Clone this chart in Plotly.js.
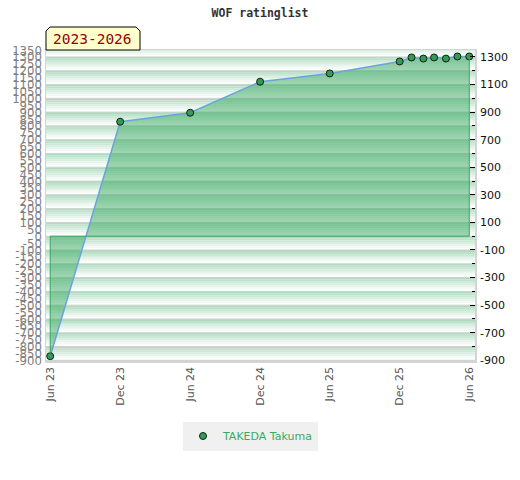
<!DOCTYPE html>
<html><head><meta charset="utf-8">
<script src="https://cdn.plot.ly/plotly-3.0.1.min.js"></script>
<style>html,body{margin:0;padding:0;background:#fff}#chart{width:520px;height:480px}</style>
</head><body><div id="chart"></div>
<script>
// ---- data ----
var dates = ['2023-06-01','2023-12-01','2024-06-01','2024-12-01','2025-06-01','2025-12-01',
             '2026-01-01','2026-02-01','2026-03-01','2026-04-01','2026-05-01','2026-06-01'];
var ratings = [-870, 830, 895, 1120, 1180, 1267, 1296, 1288, 1296, 1288, 1303, 1303];
var playerName = 'TAKEDA Takuma';
var periodLabel = '2023-2026';
var xTickVals = ['2023-06-01','2023-12-01','2024-06-01','2024-12-01','2025-06-01','2025-12-01','2026-06-01'];
var xTickText = ['Jun 23','Dec 23','Jun 24','Dec 24','Jun 25','Dec 25','Jun 26'];
var leftTickVals = [-900,-850,-800,-750,-700,-650,-600,-550,-500,-450,-400,-350,-300,-250,-200,-150,-100,-50,
                    0,50,100,150,200,250,300,350,400,450,500,550,600,650,700,750,800,850,900,950,
                    1000,1050,1100,1150,1200,1250,1300,1350];
var leftTickText = leftTickVals.map(String);
var rightTickVals = [-900,-700,-500,-300,-100,100,300,500,700,900,1100,1300];
var rightTickText = rightTickVals.map(String);
var yRange = [-905, 1350];
var xRange = ['2023-05-21','2026-06-16'];

// ---- background stripes (style only) ----
function buildShapes() {
  var shapes = [];
  var green = [174,219,190], white = [255,255,255];
  var steps = 7;
  for (var bandTop = 1400; bandTop > yRange[0]; bandTop -= 100) {
    for (var s = 0; s < steps; s++) {
      var t = s / (steps - 1);
      var c = green.map(function(g, i){ return Math.round(g + (white[i]-g)*Math.pow(t,0.9)); });
      var a = bandTop - 100*s/steps, b = bandTop - 100*(s+1)/steps;
      if (a <= yRange[0] || b >= yRange[1]) continue;
      shapes.push({type:'rect', xref:'paper', yref:'y', x0:0, x1:1,
        y0:Math.max(b, yRange[0]), y1:Math.min(a, yRange[1]), line:{width:0},
        fillcolor:'rgb('+c.join(',')+')', layer:'below'});
    }
    if (bandTop <= yRange[1]) {
      shapes.push({type:'line', xref:'paper', yref:'y', x0:0, x1:1, y0:bandTop, y1:bandTop,
        line:{color:'#d2d2d2', width:1}, layer:'below'});
    }
  }
  // label box with chamfered top corners
  shapes.push({type:'path', xref:'paper', yref:'paper', xsizemode:'pixel', ysizemode:'pixel',
    xanchor:0, yanchor:1, path:'M 0 0 L 0 19 L 4 23 L 90 23 L 94 19 L 94 0 Z',
    fillcolor:'#ffffcc', line:{color:'#000', width:1}, layer:'above'});
  return shapes;
}

var n = dates.length;
var traces = [
  { x: dates, y: ratings, type:'scatter', mode:'lines', fill:'tozeroy',
    fillcolor:'rgba(60,170,100,0.5)', line:{color:'#6aa4dc', width:1.5},
    showlegend:false, hoverinfo:'skip' },
  { x: [dates[0], dates[0], dates[n-1], dates[n-1]], y: [ratings[0], 0, 0, ratings[n-1]],
    type:'scatter', mode:'lines', line:{color:'#34a862', width:1}, yaxis:'y2',
    showlegend:false, hoverinfo:'skip' },
  { x: dates, y: ratings, type:'scatter', mode:'markers', name: playerName,
    marker:{color:'#349a58', size:7, line:{color:'#102010', width:1}} }
];

var layout = {
  width:520, height:480,
  margin:{l:46, r:45, t:50, b:119},
  paper_bgcolor:'#ffffff', plot_bgcolor:'rgba(0,0,0,0)',
  title:{text:'WOF ratinglist', x:0.5, xanchor:'center', y:1-13/480, yanchor:'middle',
    font:{family:'DejaVu Sans Mono', size:11.5, color:'#333', weight:'bold'}},
  xaxis:{type:'date', range:xRange, tickvals:xTickVals, ticktext:xTickText, tickangle:-90,
    showgrid:false, zeroline:false, ticks:'', showline:true, linecolor:'#d4d4d4', linewidth:1.5, mirror:true,
    tickfont:{family:'DejaVu Sans', size:11, color:'#555'}},
  yaxis:{range:yRange, tickvals:leftTickVals, ticktext:leftTickText, showgrid:false, zeroline:false, ticks:'',
    showline:true, linecolor:'#d4d4d4', linewidth:1.5, mirror:true,
    tickfont:{family:'Liberation Sans Narrow, DejaVu Sans Condensed, sans-serif', size:13, color:'#808080'}},
  yaxis2:{range:yRange, overlaying:'y', side:'right', tickvals:rightTickVals, ticktext:rightTickText, showgrid:false,
    zeroline:false, ticks:'inside', ticklen:5, tickcolor:'#000', tickwidth:1,
    minor:{dtick:100, tick0:-900, ticks:'inside', ticklen:3, tickcolor:'#000'},
    ticklabelstandoff:4,
    tickfont:{family:'DejaVu Sans', size:11, color:'#111'}},
  showlegend:true,
  legend:{orientation:'h', x:0.5 - 10/429, xanchor:'center', y:(361-436)/311, yanchor:'middle',
    bgcolor:'#f0f0f0', font:{family:'DejaVu Sans', size:11, color:'#3aaa64'}},
  annotations:[{text:periodLabel, xref:'paper', yref:'paper', x:0, y:1, xanchor:'left', yanchor:'middle',
    xshift:5, yshift:11.5, showarrow:false,
    font:{family:'DejaVu Sans Mono', size:14.5, color:'#990000'}}],
  shapes: buildShapes()
};
Plotly.newPlot('chart', traces, layout, {displayModeBar:false, staticPlot:true});
</script></body></html>
